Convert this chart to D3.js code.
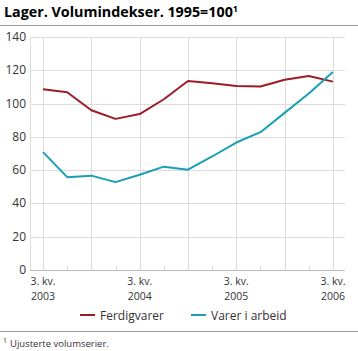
<!DOCTYPE html>
<html>
<head>
<meta charset="utf-8">
<script src="https://cdn.jsdelivr.net/npm/d3@7"></script>
<style>
  body { margin: 0; background: #fff; }
  svg { display: block; font-family: "Open Sans", sans-serif; }
</style>
</head>
<body>
<svg id="chart"></svg>
<script>
// Chart size
const width = 358;
const height = 351;

// Quarters from 3. kv. 2003 to 3. kv. 2006
const quarters = ["2003K3", "2003K4", "2004K1", "2004K2", "2004K3", "2004K4",
  "2005K1", "2005K2", "2005K3", "2005K4", "2006K1", "2006K2", "2006K3"];

// Series values
const ferdigvarer = [108.6, 106.8, 96, 90.8, 93.7, 102.6, 113.6, 112.2, 110.6, 110.3, 114.3, 116.6, 113.2];
const varerIArbeid = [70.8, 55.8, 56.7, 52.8, 57.2, 62.1, 60.3, 68.2, 76.6, 82.8, 94.4, 106, 119];

const yTicks = [0, 20, 40, 60, 80, 100, 120, 140];
const xLabelIdx = [0, 4, 8, 12];
const xLabelTop = ["3. kv.", "3. kv.", "3. kv.", "3. kv."];
const xLabelBottom = ["2003", "2004", "2005", "2006"];

const seriesList = [
  { name: "Ferdigvarer", values: ferdigvarer, color: "#9b1c24" },
  { name: "Varer i arbeid", values: varerIArbeid, color: "#17a0b4" }
];

const svg = d3.select("#chart")
  .attr("width", width)
  .attr("height", height);

// Scales
const x = d3.scaleLinear().domain([-0.54, 12.5]).range([30, 345]);
const y = d3.scaleLinear().domain([0, 140]).range([270, 37]);

// Title
const title = svg.append("text")
  .attr("x", 4)
  .attr("y", 17)
  .attr("font-size", 14.3)
  .attr("font-weight", "bold")
  .attr("fill", "#000");
title.append("tspan").text("Lager. Volumindekser. 1995=100");
title.append("tspan").attr("dy", -5).attr("font-size", 9).text("1");

svg.append("line")
  .attr("x1", 0).attr("x2", width)
  .attr("y1", 25.5).attr("y2", 25.5)
  .attr("stroke", "#999");

// Horizontal gridlines
svg.append("g").selectAll("line")
  .data(yTicks)
  .enter().append("line")
  .attr("x1", 30).attr("x2", 345)
  .attr("y1", d => Math.round(y(d)) + 0.5)
  .attr("y2", d => Math.round(y(d)) + 0.5)
  .attr("stroke", d => d === 0 ? "#bbb" : "#dcdcdc");

// Vertical gridlines every half year, small ticks between
svg.append("line")
  .attr("x1", 30.5).attr("x2", 30.5)
  .attr("y1", y(140)).attr("y2", y(0))
  .attr("stroke", "#dcdcdc");

svg.append("g").selectAll("line")
  .data(d3.range(quarters.length))
  .enter().append("line")
  .attr("x1", d => Math.round(x(d)) + 0.5)
  .attr("x2", d => Math.round(x(d)) + 0.5)
  .attr("y1", d => d % 2 === 0 ? y(140) : y(0) - 5)
  .attr("y2", y(0))
  .attr("stroke", "#dcdcdc");

// Y labels
svg.append("g").selectAll("text")
  .data(yTicks)
  .enter().append("text")
  .attr("x", 26)
  .attr("y", d => y(d) + 4)
  .attr("text-anchor", "end")
  .attr("font-size", 12)
  .attr("fill", "#333")
  .text(d => d);

// X labels, two lines each
const xg = svg.append("g")
  .attr("font-size", 10.5)
  .attr("fill", "#333")
  .attr("text-anchor", "middle");
xg.selectAll("text.top")
  .data(xLabelIdx)
  .enter().append("text")
  .attr("class", "top")
  .attr("x", d => x(d))
  .attr("y", 285)
  .text((d, i) => xLabelTop[i]);
xg.selectAll("text.bottom")
  .data(xLabelIdx)
  .enter().append("text")
  .attr("class", "bottom")
  .attr("x", d => x(d))
  .attr("y", 299.5)
  .text((d, i) => xLabelBottom[i]);

// Lines
const line = d3.line()
  .x((d, i) => x(i))
  .y(d => y(d));

svg.append("g").selectAll("path")
  .data(seriesList)
  .enter().append("path")
  .attr("d", d => line(d.values))
  .attr("fill", "none")
  .attr("stroke", d => d.color)
  .attr("stroke-width", 2)
  .attr("stroke-linejoin", "round");

// Legend
const legendX = [80, 191];
const legend = svg.append("g").selectAll("g")
  .data(seriesList)
  .enter().append("g")
  .attr("transform", (d, i) => `translate(${legendX[i]},315)`);
legend.append("line")
  .attr("x1", 0).attr("x2", 15)
  .attr("stroke", d => d.color)
  .attr("stroke-width", 2);
legend.append("text")
  .attr("x", 20)
  .attr("y", 4.5)
  .attr("font-size", 12)
  .attr("fill", "#333")
  .text(d => d.name);

// Footnote
svg.append("line")
  .attr("x1", 0).attr("x2", width)
  .attr("y1", 331.5).attr("y2", 331.5)
  .attr("stroke", "#999");

const foot = svg.append("text")
  .attr("x", 3)
  .attr("y", 347)
  .attr("font-size", 9.5)
  .attr("fill", "#333");
foot.append("tspan").attr("font-size", 7).attr("dy", -4).text("1");
foot.append("tspan").attr("dy", 4).attr("dx", 3).text("Ujusterte volumserier.");
</script>
</body>
</html>
